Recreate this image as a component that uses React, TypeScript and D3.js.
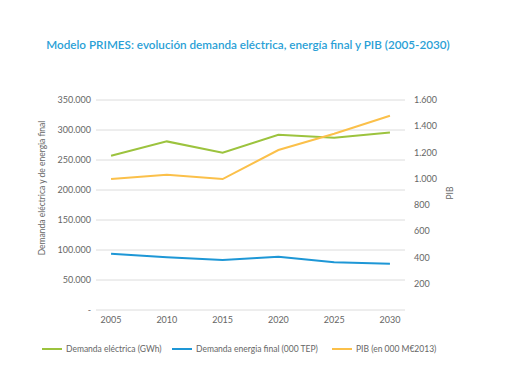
import React from "react";
import * as d3 from "d3";

const years = ["2005", "2010", "2015", "2020", "2025", "2030"];
const demandaElectrica = [257000, 281000, 262000, 292000, 287000, 296000];
const demandaEnergiaFinal = [93900, 87800, 83300, 88900, 79400, 77200];
const pib = [998, 1031, 998, 1219, 1343, 1480];
const leftTicks = [0, 50000, 100000, 150000, 200000, 250000, 300000, 350000];
const rightTicks = [200, 400, 600, 800, 1000, 1200, 1400, 1600];

const GREEN = "#9cc33e";
const BLUE = "#1e97d6";
const YELLOW = "#fbc04a";
const TEXT = "#666";
const FONT = "Lato, 'Open Sans', sans-serif";

const fmt = (v: number) =>
  v === 0 ? "-" : d3.format(",")(v).replace(/,/g, ".");

export default function App() {
  const W = 510, H = 382;
  const left = 96, right = 405, top = 100, bottom = 310;
  const x = d3.scalePoint<string>().domain(years).range([left, right]).padding(0.27);
  const yL = d3.scaleLinear().domain([0, 350000]).range([bottom, top]);
  const yR = d3.scaleLinear().domain([0, 1600]).range([bottom, top]);

  const lineL = d3.line<number>().x((_, i) => x(years[i])!).y((d) => yL(d));
  const lineR = d3.line<number>().x((_, i) => x(years[i])!).y((d) => yR(d));

  const legend = [
    { label: "Demanda eléctrica (GWh)", color: GREEN, x: 42 },
    { label: "Demanda energia final (000 TEP)", color: BLUE, x: 172 },
    { label: "PIB (en 000 M€2013)", color: YELLOW, x: 332 },
  ];

  return (
    <svg width={W} height={H} style={{ position: "absolute", left: 0, top: 0, background: "#fff" }} fontFamily={FONT}>
      <rect width={W} height={H} fill="#fff" />
      <text x={248} y={49} textAnchor="middle" fontSize={11.7} fontWeight={600} fill="#2a9fd6">
        Modelo PRIMES: evolución demanda eléctrica, energía final y PIB (2005-2030)
      </text>
      {leftTicks.map((t) => (
        <g key={t}>
          <line x1={left} x2={right} y1={yL(t)} y2={yL(t)} stroke="#dcdcdc" strokeWidth={1} />
          <text x={91} y={yL(t)} dy="0.35em" textAnchor="end" fontSize={9} fill={TEXT}>
            {fmt(t)}
          </text>
        </g>
      ))}
      {rightTicks.map((t) => (
        <text key={t} x={414} y={yR(t)} dy="0.35em" textAnchor="start" fontSize={9} fill={TEXT}>
          {fmt(t)}
        </text>
      ))}
      {years.map((yv) => (
        <text key={yv} x={x(yv)} y={323} textAnchor="middle" fontSize={9} fill={TEXT}>
          {yv}
        </text>
      ))}
      <text transform={`translate(45,188) rotate(-90)`} textAnchor="middle" fontSize={8.5} fill={TEXT}>
        Demanda eléctrica y de energia final
      </text>
      <text transform={`translate(453,193) rotate(-90)`} textAnchor="middle" fontSize={8.5} fill={TEXT}>
        PIB
      </text>
      <path d={lineL(demandaElectrica)!} fill="none" stroke={GREEN} strokeWidth={2} />
      <path d={lineL(demandaEnergiaFinal)!} fill="none" stroke={BLUE} strokeWidth={2} />
      <path d={lineR(pib)!} fill="none" stroke={YELLOW} strokeWidth={2} />
      {legend.map((l) => (
        <g key={l.label}>
          <line x1={l.x} x2={l.x + 20} y1={349} y2={349} stroke={l.color} strokeWidth={2} />
          <text x={l.x + 24} y={349} dy="0.35em" fontSize={8.5} fill={TEXT}>
            {l.label}
          </text>
        </g>
      ))}
    </svg>
  );
}
